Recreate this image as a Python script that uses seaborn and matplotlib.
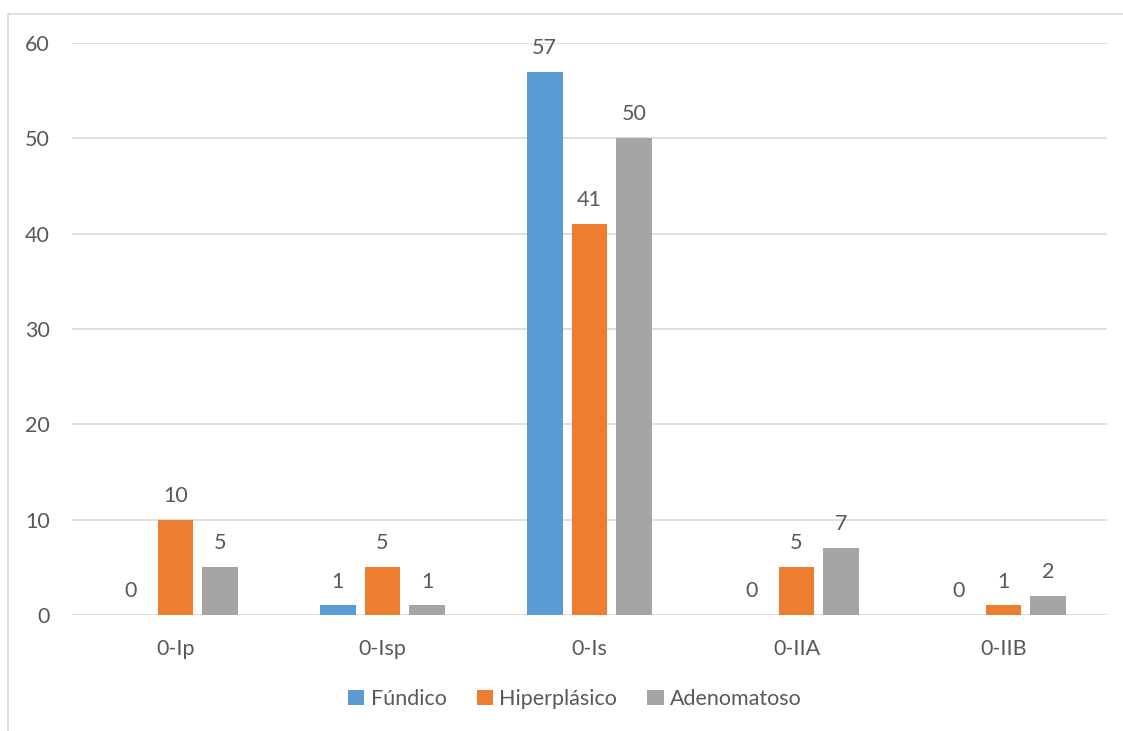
import matplotlib
matplotlib.use("Agg")
import matplotlib.pyplot as plt
import seaborn as sns
import pandas as pd
from matplotlib.patches import Rectangle

categories = ["0-Ip", "0-Isp", "0-Is", "0-IIA", "0-IIB"]
fundico = [0, 1, 57, 0, 0]
hiperplasico = [10, 5, 41, 5, 1]
adenomatoso = [5, 1, 50, 7, 2]
series_names = ["Fúndico", "Hiperplásico", "Adenomatoso"]
colors = ["#5B9BD5", "#ED7D31", "#A5A5A5"]

df = pd.DataFrame({
    "tipo": categories * 3,
    "serie": [s for s in series_names for _ in categories],
    "valor": fundico + hiperplasico + adenomatoso,
})

sns.set_theme(style="white")
plt.rcParams["font.family"] = ["Lato", "DejaVu Sans"]
text_color = "#595959"
fs = 15.5

W, H = 1123, 731
fig = plt.figure(figsize=(W / 100, H / 100), dpi=100)
ax = fig.add_axes([72 / W, 1 - 615 / H, (1107 - 72) / W, (615 - 43) / H])

sns.barplot(data=df, x="tipo", y="valor", hue="serie", order=categories,
            hue_order=series_names, palette=colors, width=0.652, gap=0.2,
            saturation=1, ax=ax, legend=True, errorbar=None, linewidth=0)

for cont in ax.containers:
    ax.bar_label(cont, fmt="%d", padding=10, fontsize=fs, color=text_color)

ax.set_ylim(0, 60)
ax.set_yticks(range(0, 61, 10))
ax.yaxis.grid(True, color="#D9D9D9", linewidth=1.2)
ax.set_axisbelow(True)
for s in ax.spines.values():
    s.set_visible(False)
ax.tick_params(axis="both", length=0, labelsize=fs, labelcolor=text_color)
ax.tick_params(axis="y", pad=16)
ax.tick_params(axis="x", pad=17)
ax.set_xlabel("")
ax.set_ylabel("")

leg = ax.legend(loc="center", bbox_to_anchor=(0.486, (615 - 699) / (615 - 43)),
                ncol=3, frameon=False, fontsize=fs, handlelength=0.75,
                handleheight=0.75, handletextpad=0.3, columnspacing=1.4)
for t in leg.get_texts():
    t.set_color(text_color)

# chart frame
fig.patches.append(Rectangle((8 / W, -0.05), 1.2, 1 - 14 / H + 0.05,
                             transform=fig.transFigure, fill=False,
                             edgecolor="#D9D9D9", linewidth=1.2))

fig.savefig("out.png", dpi=100)
